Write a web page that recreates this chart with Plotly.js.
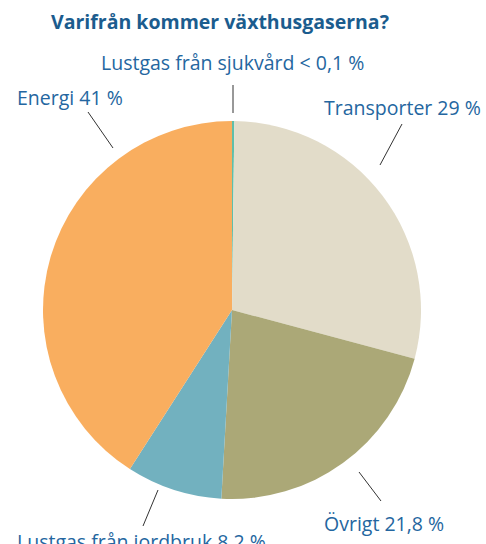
<!DOCTYPE html>
<html>
<head>
<meta charset="utf-8">
<script src="https://cdn.plot.ly/plotly-3.0.1.min.js"></script>
<style>html,body{margin:0;padding:0;background:#fff;}#chart{width:486px;height:544px;}</style>
</head>
<body>
<div id="chart"></div>
<script>
const categories = ["Lustgas från sjukvård", "Transporter", "Övrigt", "Lustgas från jordbruk", "Energi"];
const values = [0.2, 29, 21.8, 8.2, 41];
const valueLabels = ["< 0,1 %", "29 %", "21,8 %", "8,2 %", "41 %"];
const colors = ["#5FBFA9", "#E2DCC9", "#ABA877", "#72B1BF", "#F9AE5F"];

const W = 486, H = 544;
const px = x => x / W;
const py = y => 1 - y / H;
const labelColor = "#2466A0";
const fontFam = "'Open Sans', sans-serif";

const labelPos = [
  {x: 232, y: 62, anchor: "center"},
  {x: 483, y: 108, anchor: "right"},
  {x: 322, y: 523, anchor: "left"},
  {x: 15, y: 541, anchor: "left"},
  {x: 15, y: 97, anchor: "left"}
];
const leaders = [
  [233, 85, 233, 113],
  [402, 124, 380, 165],
  [359, 472, 381, 501],
  [158, 490, 143, 526],
  [88, 112, 113, 148]
];

const annotations = categories.map((c, i) => ({
  text: c + " " + valueLabels[i],
  xref: "paper", yref: "paper",
  x: px(labelPos[i].x), y: py(labelPos[i].y),
  xanchor: labelPos[i].anchor, yanchor: "middle",
  showarrow: false,
  font: {family: fontFam, size: 19.5, color: labelColor}
}));

const shapes = leaders.map(l => ({
  type: "line", xref: "paper", yref: "paper",
  x0: px(l[0]), y0: py(l[1]), x1: px(l[2]), y1: py(l[3]),
  line: {color: "#333333", width: 1}
}));

const data = [{
  type: "pie",
  labels: categories,
  values: values,
  sort: false,
  direction: "clockwise",
  rotation: 0,
  textinfo: "none",
  marker: {colors: colors, line: {width: 0}},
  domain: {x: [px(43), px(421)], y: [py(499), py(121)]},
  showlegend: false
}];

const layout = {
  width: W, height: H,
  margin: {l: 0, r: 0, t: 0, b: 0},
  paper_bgcolor: "#ffffff",
  title: {
    text: "<b>Varifrån kommer växthusgaserna?</b>",
    x: 220 / W, xanchor: "center", xref: "paper",
    y: py(22), yanchor: "middle", yref: "container",
    font: {family: fontFam, size: 19.5, color: "#1B5C8E"}
  },
  annotations: annotations,
  shapes: shapes,
  showlegend: false
};

Plotly.newPlot("chart", data, layout, {displayModeBar: false, staticPlot: true});
</script>
</body>
</html>
